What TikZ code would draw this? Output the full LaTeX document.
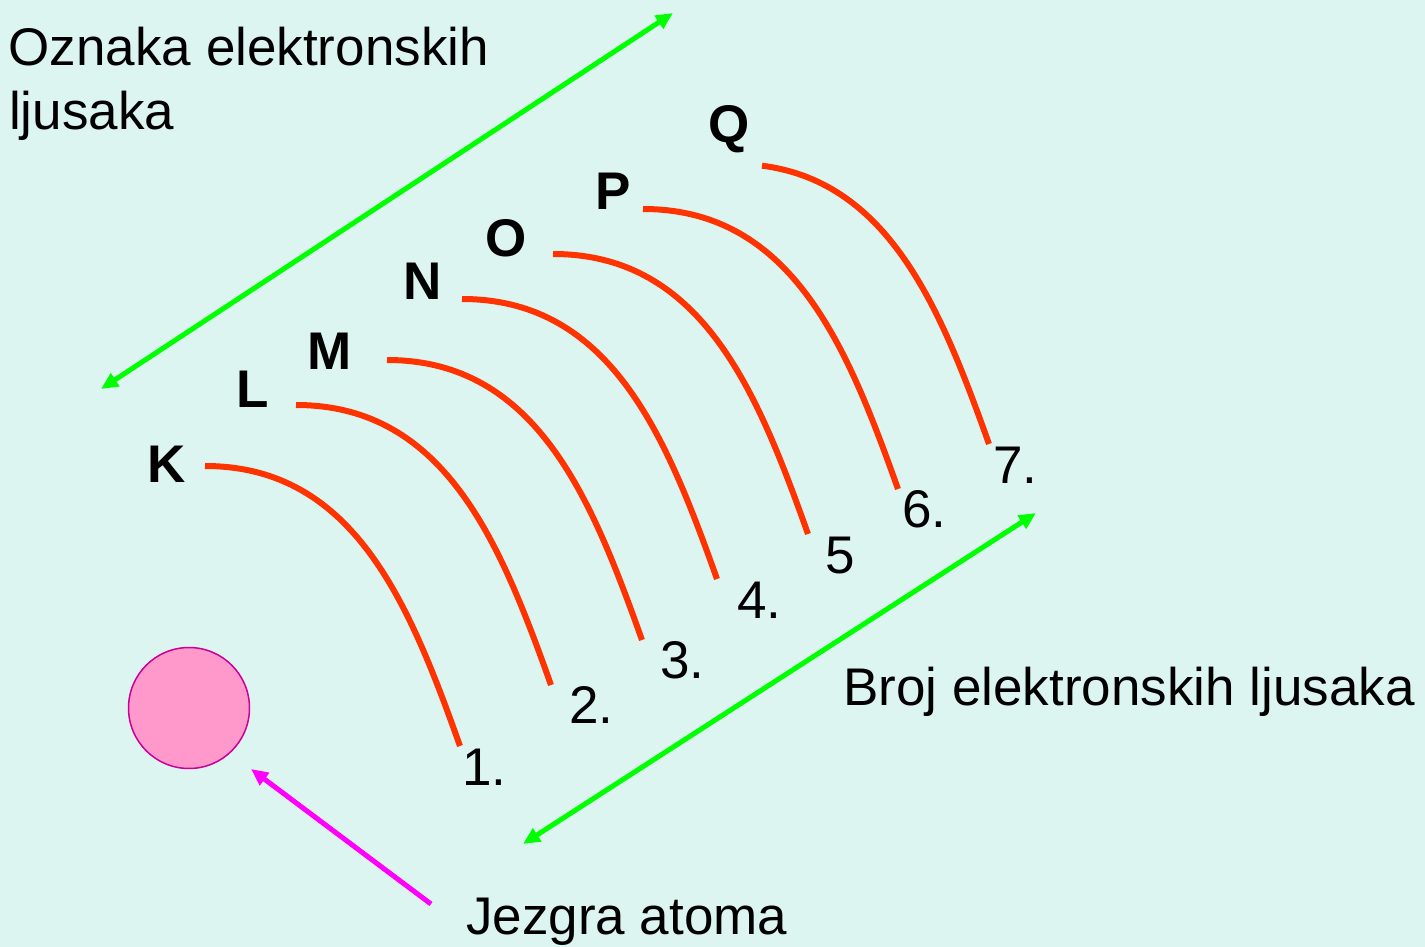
\documentclass[tikz,border=0pt]{standalone}
\usepackage{fontspec}
\setmainfont{Liberation Sans}
\usetikzlibrary{arrows.meta,calc}
\definecolor{bgmint}{RGB}{221,245,240}
\definecolor{shellred}{RGB}{255,51,0}
\definecolor{arrgreen}{RGB}{0,255,0}
\definecolor{arrmag}{RGB}{255,0,255}
\definecolor{nucfill}{RGB}{255,153,204}
\definecolor{nucdraw}{RGB}{204,0,153}
\tikzset{
  lbl/.style={anchor=base west, inner sep=0pt, font=\fontsize{53}{63}\selectfont},
  shelllbl/.style={anchor=base west, inner sep=0pt, font=\fontsize{53}{63}\selectfont\bfseries},
  numlbl/.style={anchor=base west, inner sep=0pt, font=\fontsize{53}{63}\selectfont},
  shell/.style={draw=shellred, line width=6pt},
  tipg/.tip={Triangle[length=17pt,width=15pt]},
  garrow/.style={draw=arrgreen, line width=5pt, tipg-tipg},
  marrow/.style={draw=arrmag, line width=5pt, -{Triangle[length=17pt,width=15pt]}},
}
\begin{document}
\begin{tikzpicture}[x=1pt,y=-1pt]
\fill[bgmint] (0,0) rectangle (1425,947);
\useasboundingbox (0,0) rectangle (1425,947);

% titles
\node[lbl] (t1a) at (8.5,66) {Oznaka elektronskih};
\node[lbl] (t1b) at (9,129.5) {ljusaka};
\node[lbl] (t2) at (843,705) {Broj elektronskih ljusaka};
\node[lbl] (t3) at (466,934) {Jezgra atoma};

% shell letters
\node[shelllbl] (lK) at (147,482) {K};
\node[shelllbl] (lL) at (236,407) {L};
\node[shelllbl] (lM) at (307,369) {M};
\node[shelllbl] (lN) at (403,299) {N};
\node[shelllbl] (lO) at (485,256) {O};
\node[shelllbl] (lP) at (595,209) {P};
\node[shelllbl] (lQ) at (708,143) {Q};

% numbers
\node[numlbl] (n1) at (462,785) {1.};
\node[numlbl] (n2) at (569,723) {2.};
\node[numlbl] (n3) at (660,678) {3.};
\node[numlbl] (n4) at (737,618) {4.};
\node[numlbl] (n5) at (825,573) {5};
\node[numlbl] (n6) at (902,527) {6.};
\node[numlbl] (n7) at (993,483) {7.};

% shells
\foreach \nm/\sx/\sy in {K/205/466, L/296/405, M/387/360, N/462/299, O/553/254, P/643/209}{
  \coordinate (s\nm) at (\sx,\sy);
  \coordinate (e\nm) at ($(\sx,\sy)+(255,280)$);
}
\foreach \nm in {K,L,M,N,O,P}{
  \draw[shell] (s\nm) .. controls ($(s\nm)+(150,0)$) and ($(e\nm)+(-50,-140)$) .. (e\nm);
}
\coordinate (sQ) at (762,165.7);
\coordinate (eQ) at (989,444);
\draw[shell] (sQ) .. controls (891.1,182.2) and (942.2,313.1) .. (eQ);

% nucleus
\node[circle, minimum size=121pt, inner sep=0pt, fill=nucfill, draw=nucdraw, line width=1.5pt] (nuc) at (189,708) {};

% arrows
\coordinate (g1a) at (101,389);
\coordinate (g1b) at (673,13);
\coordinate (g2a) at (523,844);
\coordinate (g2b) at (1036,513);
\coordinate (m1a) at (431,904);
\coordinate (m1b) at (251,769);
\draw[garrow] (g1a) -- (g1b);
\draw[garrow] (g2a) -- (g2b);
\draw[marrow] (m1a) -- (m1b);
\end{tikzpicture}
\end{document}
